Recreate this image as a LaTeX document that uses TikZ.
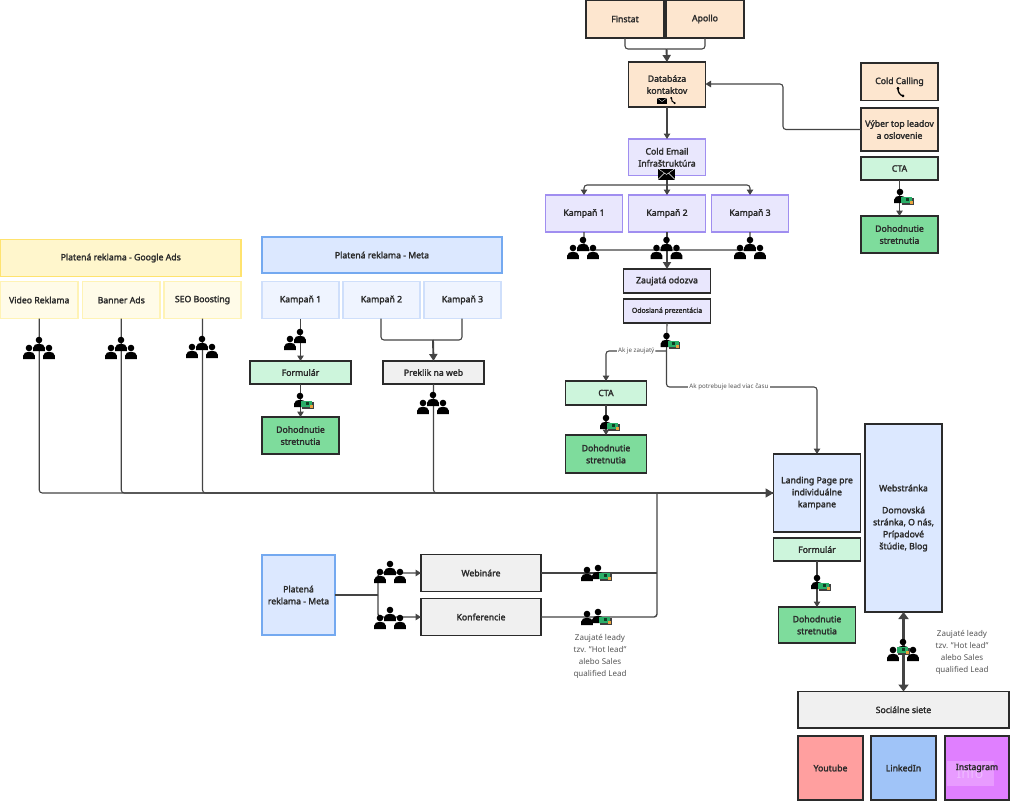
\documentclass[tikz,border=0pt]{standalone}
\usepackage{fontspec}
\setmainfont{Noto Sans}[AutoFakeBold=2.2]
\usetikzlibrary{arrows.meta}
\definecolor{ink}{HTML}{2B2B2B}
\definecolor{edgec}{HTML}{444444}
\definecolor{notec}{HTML}{555555}
\definecolor{peach}{HTML}{FDE6CF}
\definecolor{lilac}{HTML}{E9E7FD}
\definecolor{lilacb}{HTML}{A08EF0}
\definecolor{yelh}{HTML}{FFF6CC}
\definecolor{yelhb}{HTML}{FFE36E}
\definecolor{yels}{HTML}{FFFBE8}
\definecolor{yelsb}{HTML}{FFF3B5}
\definecolor{bluh}{HTML}{DCE8FF}
\definecolor{bluhb}{HTML}{74A9F0}
\definecolor{blus}{HTML}{EFF4FF}
\definecolor{blusb}{HTML}{CFDFFB}
\definecolor{grl}{HTML}{CDF5DC}
\definecolor{grd}{HTML}{7EDC9C}
\definecolor{gryf}{HTML}{F0F0F0}
\definecolor{redf}{HTML}{FF9F9F}
\definecolor{bluf}{HTML}{A0C4F8}
\definecolor{purf}{HTML}{E07FFF}
\definecolor{ghostf}{HTML}{E89BFF}
\definecolor{cashg}{HTML}{2AAE68}
\definecolor{casho}{HTML}{E8A33D}
\tikzset{
  x=1pt,y=-1pt,
  boxbase/.style={rectangle,outer sep=0pt,inner sep=1pt,align=center,text=ink,font=\bfseries\fontsize{8.7}{12}\selectfont},
  peachbox/.style={boxbase,draw=ink,line width=1.8pt,fill=peach},
  lilacbox/.style={boxbase,draw=lilacb,line width=1.8pt,fill=lilac},
  lilacdark/.style={boxbase,draw=ink,line width=1.8pt,fill=lilac},
  yelhead/.style={boxbase,draw=yelhb,line width=1.8pt,fill=yelh},
  yelsub/.style={boxbase,draw=yelsb,line width=1.8pt,fill=yels},
  bluhead/.style={boxbase,draw=bluhb,line width=1.8pt,fill=bluh},
  blusub/.style={boxbase,draw=blusb,line width=1.8pt,fill=blus},
  greenl/.style={boxbase,draw=ink,line width=1.8pt,fill=grl},
  greend/.style={boxbase,draw=ink,line width=1.8pt,fill=grd},
  graybox/.style={boxbase,draw=ink,line width=1.8pt,fill=gryf},
  bluedark/.style={boxbase,draw=ink,line width=1.8pt,fill=bluh},
  redbox/.style={boxbase,draw=ink,line width=1.8pt,fill=redf},
  lnkbox/.style={boxbase,draw=ink,line width=1.8pt,fill=bluf},
  purbox/.style={boxbase,draw=ink,line width=1.8pt,fill=purf},
  conn/.style={draw=edgec,line width=1.1pt,rounded corners=3pt},
  arr/.style={conn,-{Triangle[length=5.5pt,width=6.5pt]}},
  thickarr/.style={conn,line width=1.9pt,-{Triangle[length=7pt,width=8pt]}},
  heavy/.style={draw=edgec,line width=2.4pt,{Triangle[length=7pt,width=10pt]}-{Triangle[length=7pt,width=10pt]}},
  edgelabel/.style={fill=white,inner sep=1pt,text=notec,font=\fontsize{6.2}{8}\selectfont},
  note/.style={align=center,text=notec,inner sep=0pt,font=\fontsize{8}{12}\selectfont},
  oneperson/.pic={
    \fill[black] (0,-4) circle (3.3);
    \fill[black] (-5.8,7) -- (-5.8,3.5) .. controls (-5.8,-1.5) and (5.8,-1.5) .. (5.8,3.5) -- (5.8,7) -- cycle;
  },
  cash/.pic={
    \fill[black!75] (-4.6,-2.4) rectangle (6.6,4.6);
    \fill[cashg] (-6,-3.4) rectangle (5.4,3);
    \fill[black!65!cashg] (-1.5,-1.8) rectangle (1.5,1.2);
    \fill[casho] (2.6,0.8) rectangle (5.6,3.8);
  },
  trio/.pic={
    \path (-10,5) pic {oneperson} (10,5) pic {oneperson} (0,-3) pic {oneperson};
  },
  duo/.pic={\path (-10,7) pic {oneperson} (0,0) pic {oneperson};},
  solomoney/.pic={\path (0,0) pic {oneperson} (7,4) pic {cash};},
  duomoney/.pic={\path (-9,2) pic {oneperson} (2,0) pic {oneperson} (9,4) pic {cash};},
  triomoney/.pic={\path (0,0) pic {trio} (0,1) pic {cash};},
  envelope/.pic={
    \fill[black] (-8.5,-5.5) rectangle (8.5,5.5);
    \draw[white,line width=.4pt] (-8.5,-5.5) -- (0,0.5) -- (8.5,-5.5) (-8.5,5.5) -- (-2,-1) (8.5,5.5) -- (2,-1);
  },
  mailsmall/.pic={
    \fill[black] (-4.8,-3) rectangle (4.8,3);
    \draw[white,line width=.3pt] (-4.8,-3) -- (0,0.5) -- (4.8,-3);
  },
  phonebig/.pic={
    \draw[black,line width=1.3pt,line cap=round] (-2.5,-4.5) .. controls (-3,0) and (-0.5,3.5) .. (3,4);
    \fill[black] (-2.6,-3.6) circle (1.5) (2.4,3.9) circle (1.5);
  },
  phonesmall/.pic={
    \draw[black,line width=1pt,line cap=round] (-1.7,-3) .. controls (-2,0) and (-0.3,2.2) .. (2,2.6);
    \fill[black] (-1.8,-2.4) circle (1.1) (1.6,2.6) circle (1.1);
  },
}
\newcommand\bx[7]{%
  \pgfmathsetmacro\bxw{#5-#3}\pgfmathsetmacro\bxh{#6-#4}%
  \pgfmathsetmacro\bxx{(#3+#5)/2}\pgfmathsetmacro\bxy{(#4+#6)/2}%
  \node[#2,minimum width=\bxw pt,minimum height=\bxh pt] (#1) at (\bxx,\bxy) {#7};%
}
\begin{document}
\begin{tikzpicture}
\useasboundingbox (0,0) rectangle (1010,801);
\fill[white] (0,0) rectangle (1010,801);
% top chain
\bx{finstat}{peachbox}{586}{0}{664}{38}{Finstat}
\bx{apollo}{peachbox}{666}{0}{744}{38}{Apollo}
\bx{db}{peachbox}{628.5}{62}{705.5}{107}{Databáza\\kontaktov}
\bx{mail}{lilacbox}{628.5}{139}{705.5}{175.5}{Cold Email\\Infraštruktúra}
\bx{ka}{lilacbox}{545.5}{195}{622.5}{232}{Kampaň 1}
\bx{kb}{lilacbox}{628.5}{195}{705.5}{232}{Kampaň 2}
\bx{kc}{lilacbox}{711.5}{195}{788.5}{232}{Kampaň 3}
\bx{zaujata}{lilacdark}{623.5}{269}{710.5}{293}{Zaujatá odozva}
\bx{odoslana}{lilacdark}{623.5}{299}{710.5}{323}{\fontsize{6.9}{9}\selectfont Odoslaná prezentácia}
\bx{ctam}{greenl}{565.5}{381}{646.5}{405}{CTA}
\bx{dohm}{greend}{565.5}{435}{646.5}{473}{Dohodnutie\\stretnutia}
% right column
\bx{calling}{peachbox}{861}{63}{938}{100.5}{Cold Calling}
\bx{vyber}{peachbox}{861}{108}{938}{151}{Výber top leadov\\a oslovenie}
\bx{ctar}{greenl}{861}{157}{938}{180}{CTA}
\bx{dohr}{greend}{861}{216}{938}{253}{Dohodnutie\\stretnutia}
% google
\bx{google}{yelhead}{0.5}{239.5}{241}{276.5}{Platená reklama - Google Ads}
\bx{video}{yelsub}{0.5}{281.5}{78}{318.5}{Video Reklama}
\bx{banner}{yelsub}{82.5}{281.5}{160}{318.5}{Banner Ads}
\bx{seo}{yelsub}{164}{281.5}{241}{318.5}{SEO Boosting}
% meta
\bx{meta}{bluhead}{262}{237}{502}{273}{Platená reklama - Meta}
\bx{ma}{blusub}{262}{281.5}{339}{318.5}{Kampaň 1}
\bx{mb}{blusub}{343}{281.5}{420}{318.5}{Kampaň 2}
\bx{mc}{blusub}{424}{281.5}{501}{318.5}{Kampaň 3}
\bx{form}{greenl}{250}{361}{351}{384}{Formulár}
\bx{dohl}{greend}{262}{417}{339}{454}{Dohodnutie\\stretnutia}
\bx{preklik}{graybox}{383}{361}{484}{384}{Preklik na web}
% meta lower
\bx{metab}{bluhead}{262}{555}{335}{635}{Platená\\reklama - Meta}
\bx{webinar}{graybox}{421}{554.5}{541}{591.5}{Webináre}
\bx{konf}{graybox}{421}{598.5}{541}{635.5}{Konferencie}
% landing
\bx{landing}{bluedark}{773.5}{454}{860.5}{532}{Landing Page pre\\individuálne\\kampane}
\bx{formb}{greenl}{773.5}{538}{860.5}{561}{Formulár}
\bx{dohb}{greend}{778.5}{607}{855.5}{643}{Dohodnutie\\stretnutia}
\bx{web}{bluedark}{865}{424}{942}{612}{Webstránka\\[10pt]Domovská\\stránka, O nás,\\Prípadové\\štúdie, Blog}
\bx{social}{graybox}{798}{691.5}{1009}{728}{Sociálne siete}
\bx{yt}{redbox}{798}{736}{863}{800}{Youtube}
\bx{li}{lnkbox}{871}{736}{936}{800}{LinkedIn}
\bx{ig}{purbox}{945}{736}{1009}{800}{}
\bx{igghost}{boxbase,fill=ghostf}{947}{761}{994}{786}{}
\node[text=ghostf!70!white,inner sep=0pt,font=\fontsize{14}{14}\selectfont] (iginfo) at (970,773) {Info};
\node[text=ink,inner sep=0pt,font=\bfseries\fontsize{8.7}{12}\selectfont] (igtext) at (977,768) {Instagram};
% connector bends
\coordinate (bendtop) at (666.5,49);
\coordinate (bendmail) at (666.5,185);
\coordinate (bendk) at (666.5,250);
\coordinate (splitm) at (666.5,351);
\coordinate (jmeta) at (433,340);
\coordinate (jmain) at (657,493);
\coordinate (jsplit) at (378,595);
\coordinate (landin) at (773.5,493);
% edges
\draw[conn] (625,38) |- (bendtop);
\draw[conn] (705,38) |- (bendtop);
\draw[thickarr] (bendtop) -- (db.north);
\draw[arr] (db.south) -- (mail.north);
\draw[arr] (mail.south) -- (kb.north);
\draw[arr] (bendmail) -| (ka.north);
\draw[arr] (bendmail) -| (kc.north);
\draw[conn] (ka.south) |- (bendk);
\draw[conn] (kc.south) |- (bendk);
\draw[thickarr] (kb.south) -- (zaujata.north);
\draw[conn] (odoslana.south) -- (splitm);
\draw[arr] (splitm) -| node[pos=.25,edgelabel] {Ak je zaujatý} (ctam.north);
\coordinate (toland) at (817,387);
\draw[arr] (splitm) |- (toland) -- (toland |- landing.north);
\node[edgelabel] (lblb) at (729,387) {Ak potrebuje lead viac času};
\draw[arr] (ctam.south) -- (dohm.north);
\coordinate (bendvy) at (783,84);
\draw[arr] (vyber.west) -| (bendvy) -- (db.east |- bendvy);
\draw[arr] (ctar.south) -- (dohr.north);
\draw[conn] (video.south) |- (landin);
\draw[conn] (banner.south) |- (landin);
\draw[conn] (seo.south) |- (landin);
\draw[conn] (preklik.south) |- (landin);
\draw[arr] (ma.south -| form.north) -- (form.north);
\draw[arr] (form.south) -- (form.south |- dohl.north);
\draw[conn] (381,318.5) |- (jmeta);
\draw[conn] (462,318.5) |- (jmeta);
\draw[thickarr] (jmeta) -- (preklik.north);
\draw[conn,line width=1.4pt] (metab.east) -- (jsplit);
\draw[arr,line width=1.4pt] (jsplit) |- (webinar.west);
\draw[arr,line width=1.4pt] (jsplit) |- (konf.west);
\draw[conn,line width=1.4pt] (webinar.east) -- (webinar.east -| jmain);
\draw[conn,line width=1.4pt] (konf.east) -| (jmain);
\draw[thickarr,line width=1.6pt,-{Triangle[length=8pt,width=9pt]}] (jmain) -- (landin);
\draw[arr] (formb.south) -- (formb.south |- dohb.north);
\draw[heavy] (web.south -| social.north) -- (social.north);
% icons
\path (666.5,174) pic {envelope};
\path (662,101) pic {mailsmall} (673,100.5) pic {phonesmall};
\path (900.5,92) pic {phonebig};
\path (583,247) pic {trio} (666.5,247) pic {trio} (750,247) pic {trio};
\path (39,347) pic {trio} (121,347) pic {trio} (202,346) pic {trio};
\path (300,336) pic {duo} (433,402) pic {trio};
\path (390,571) pic {trio} (390,617) pic {trio};
\path (666.5,340) pic {solomoney} (606,422) pic {solomoney} (900,196) pic {solomoney} (300,400) pic {solomoney} (817,582) pic {solomoney};
\path (596,572) pic {duomoney} (596,616) pic {duomoney};
\path (903,649) pic {triomoney};
% notes
\node[note] (notea) at (600,656) {Zaujaté leady\\tzv. "Hot lead"\\alebo Sales\\qualified Lead};
\node[note] (noteb) at (962,652) {Zaujaté leady\\tzv. "Hot lead"\\alebo Sales\\qualified Lead};
\end{tikzpicture}
\end{document}
